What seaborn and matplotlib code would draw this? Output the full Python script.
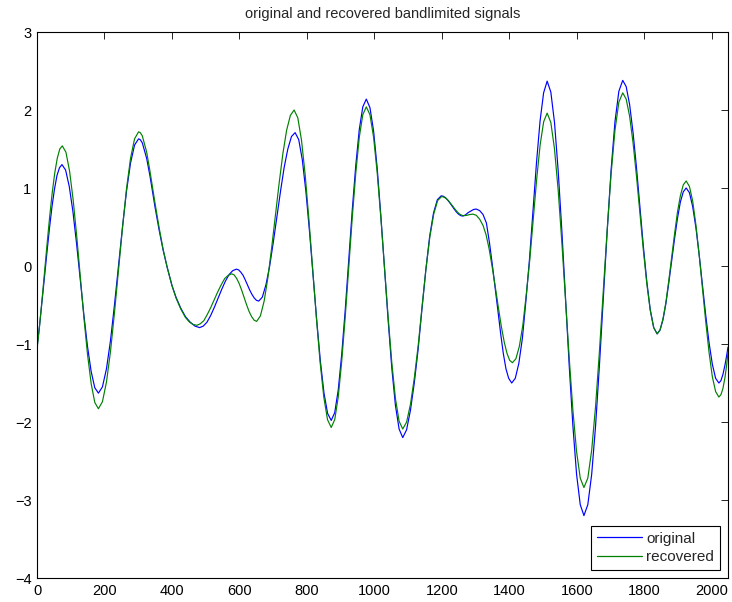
import matplotlib
matplotlib.use("Agg")
import matplotlib.pyplot as plt
import seaborn as sns
import pandas as pd

x_original = [0, 7.4, 14.8, 22.2, 29.6, 37, 44.4, 51.8, 59.2, 66.6, 74,
              84.8, 95.6, 106.4, 117.2, 128, 138.8, 149.6, 160.4, 171.2, 182,
              193.9, 205.8, 217.7, 229.6, 241.5, 253.4, 265.3, 277.2, 289.1, 301,
              306, 312, 325, 335, 350, 362, 374, 386, 400, 412, 426, 440, 454, 468, 482,
              492.9, 503.8, 514.7, 525.6, 536.5, 547.4, 558.3, 569.2, 580.1, 591,
              597.6, 604.2, 610.8, 617.4, 624, 630.6, 637.2, 643.8, 650.4, 657,
              667.8, 678.6, 689.4, 700.2, 711, 721.8, 732.6, 743.4, 754.2, 765,
              775.7, 786.4, 797.1, 807.8, 818.5, 829.2, 839.9, 850.6, 861.3, 872,
              882.4, 892.8, 903.2, 913.6, 924, 934.4, 944.8, 955.2, 965.6, 976,
              986.8, 997.6, 1008.4, 1019.2, 1030, 1040.8, 1051.6, 1062.4, 1073.2, 1084,
              1095.4, 1106.8, 1118.2, 1129.6, 1141, 1152.4, 1163.8, 1175.2, 1186.6, 1198,
              1204.4, 1210.8, 1217.2, 1223.6, 1230, 1236.4, 1242.8, 1249.2, 1255.6, 1262,
              1270, 1278, 1286, 1294, 1302,
              1312, 1322, 1332, 1341, 1350, 1358, 1366, 1374, 1382, 1390, 1398, 1407,
              1417.5, 1428, 1438.5, 1449, 1459.5, 1470, 1480.5, 1491, 1501.5, 1512,
              1522.9, 1533.8, 1544.7, 1555.6, 1566.5, 1577.4, 1588.3, 1599.2, 1610.1, 1621,
              1632.5, 1644, 1655.5, 1667, 1678.5, 1690, 1701.5, 1713, 1724.5, 1736,
              1746.2, 1756.4, 1766.6, 1776.8, 1787, 1797.2, 1807.4, 1817.6, 1827.8, 1838,
              1846.6, 1855.2, 1863.8, 1872.4, 1881, 1889.6, 1898.2, 1906.8, 1915.4, 1924,
              1933.7, 1943.4, 1953.1, 1962.8, 1972.5, 1982.2, 1991.9, 2001.6, 2011.3, 2021,
              2027, 2033, 2039, 2044, 2048]
y_original = [-1.045, -0.77, -0.46, -0.14, 0.18, 0.485, 0.76, 0.985, 1.16, 1.26, 1.30,
              1.23, 1.02, 0.70, 0.29, -0.165, -0.62, -1.03, -1.35, -1.56, -1.63,
              -1.55, -1.32, -0.96, -0.50, 0.0, 0.50, 0.96, 1.32, 1.55, 1.63,
              1.62, 1.58, 1.38, 1.15, 0.75, 0.46, 0.20, -0.02, -0.25, -0.40, -0.54, -0.65, -0.72, -0.77, -0.79,
              -0.77, -0.72, -0.635, -0.53, -0.415, -0.30, -0.195, -0.11, -0.06, -0.04,
              -0.05, -0.08, -0.12, -0.18, -0.245, -0.31, -0.365, -0.41, -0.44, -0.45,
              -0.40, -0.24, -0.005, 0.30, 0.63, 0.96, 1.265, 1.50, 1.66, 1.71,
              1.62, 1.36, 0.95, 0.435, -0.135, -0.705, -1.22, -1.63, -1.89, -1.98,
              -1.88, -1.59, -1.13, -0.56, 0.08, 0.72, 1.29, 1.75, 2.04, 2.14,
              2.03, 1.73, 1.25, 0.64, -0.03, -0.70, -1.31, -1.79, -2.09, -2.20,
              -2.10, -1.85, -1.50, -1.07, -0.55, -0.05, 0.38, 0.68, 0.85, 0.90,
              0.894, 0.875, 0.846, 0.81, 0.77, 0.73, 0.694, 0.665, 0.646, 0.64,
              0.655, 0.685, 0.705, 0.725, 0.73,
              0.71, 0.66, 0.55, 0.30, 0.0, -0.28, -0.57, -0.86, -1.12, -1.32, -1.44, -1.50,
              -1.44, -1.25, -0.93, -0.45, 0.08, 0.70, 1.33, 1.86, 2.22, 2.37,
              2.23, 1.84, 1.22, 0.45, -0.415, -1.28, -2.05, -2.67, -3.06, -3.20,
              -3.06, -2.67, -2.05, -1.27, -0.41, 0.45, 1.23, 1.85, 2.24, 2.38,
              2.30, 2.07, 1.71, 1.26, 0.755, 0.25, -0.20, -0.56, -0.79, -0.87,
              -0.82, -0.69, -0.485, -0.22, 0.065, 0.35, 0.61, 0.82, 0.95, 1.00,
              0.94, 0.76, 0.485, 0.135, -0.25, -0.64, -0.985, -1.26, -1.44, -1.50,
              -1.47, -1.39, -1.27, -1.15, -1.04]

x_recovered = [0, 7.5, 15, 22.5, 30, 37.5, 45, 52.5, 60, 67.5, 75,
               85.7, 96.4, 107.1, 117.8, 128.5, 139.2, 149.9, 160.6, 171.3, 182,
               193.9, 205.8, 217.7, 229.6, 241.5, 253.4, 265.3, 277.2, 289.1, 301,
               306, 312, 325, 335, 350, 362, 374, 386, 400, 412, 426, 440, 452, 463, 474,
               484.3, 494.6, 504.9, 515.2, 525.5, 535.8, 546.1, 556.4, 566.7, 577,
               584.4, 591.8, 599.2, 606.6, 614, 621.4, 628.8, 636.2, 643.6, 651,
               662.1, 673.2, 684.3, 695.4, 706.5, 717.6, 728.7, 739.8, 750.9, 762,
               773, 784, 795, 806, 817, 828, 839, 850, 861, 872,
               882.4, 892.8, 903.2, 913.6, 924, 934.4, 944.8, 955.2, 965.6, 976,
               986.8, 997.6, 1008.4, 1019.2, 1030, 1040.8, 1051.6, 1062.4, 1073.2, 1084,
               1095.5, 1107, 1118.5, 1130, 1141.5, 1153, 1164.5, 1176, 1187.5, 1199,
               1205.6, 1212.2, 1218.8, 1225.4, 1232, 1238.6, 1245.2, 1251.8, 1258.4, 1265,
               1274, 1283, 1292,
               1302, 1312, 1322, 1331, 1340, 1349, 1358, 1367, 1376, 1385, 1393, 1401, 1409,
               1419.3, 1429.6, 1439.9, 1450.2, 1460.5, 1470.8, 1481.1, 1491.4, 1501.7, 1512,
               1522.9, 1533.8, 1544.7, 1555.6, 1566.5, 1577.4, 1588.3, 1599.2, 1610.1, 1621,
               1632.5, 1644, 1655.5, 1667, 1678.5, 1690, 1701.5, 1713, 1724.5, 1736,
               1746.2, 1756.4, 1766.6, 1776.8, 1787, 1797.2, 1807.4, 1817.6, 1827.8, 1838,
               1846.6, 1855.2, 1863.8, 1872.4, 1881, 1889.6, 1898.2, 1906.8, 1915.4, 1924,
               1933.7, 1943.4, 1953.1, 1962.8, 1972.5, 1982.2, 1991.9, 2001.6, 2011.3, 2021,
               2027, 2033, 2039, 2044, 2048]
y_recovered = [-1.075, -0.77, -0.43, -0.07, 0.29, 0.63, 0.935, 1.19, 1.38, 1.50, 1.54,
               1.46, 1.22, 0.85, 0.38, -0.145, -0.67, -1.14, -1.51, -1.75, -1.83,
               -1.74, -1.49, -1.10, -0.60, -0.055, 0.49, 0.99, 1.38, 1.63, 1.72,
               1.71, 1.67, 1.46, 1.21, 0.80, 0.49, 0.21, -0.02, -0.25, -0.41, -0.55, -0.66, -0.72, -0.75, -0.76,
               -0.74, -0.70, -0.62, -0.53, -0.43, -0.33, -0.24, -0.16, -0.12, -0.10,
               -0.115, -0.16, -0.225, -0.31, -0.405, -0.50, -0.585, -0.65, -0.695, -0.71,
               -0.64, -0.45, -0.15, 0.23, 0.645, 1.06, 1.44, 1.74, 1.93, 2.00,
               1.90, 1.61, 1.16, 0.59, -0.035, -0.66, -1.23, -1.68, -1.97, -2.07,
               -1.97, -1.68, -1.22, -0.65, -0.015, 0.62, 1.19, 1.65, 1.94, 2.04,
               1.94, 1.65, 1.19, 0.61, -0.025, -0.66, -1.24, -1.70, -1.99, -2.09,
               -2.00, -1.77, -1.43, -1.01, -0.51, -0.03, 0.38, 0.67, 0.84, 0.89,
               0.884, 0.867, 0.84, 0.805, 0.768, 0.73, 0.696, 0.668, 0.651, 0.645,
               0.650, 0.660, 0.665,
               0.65, 0.60, 0.52, 0.40, 0.22, -0.01, -0.26, -0.52, -0.77, -0.98, -1.12, -1.21, -1.24,
               -1.19, -1.03, -0.76, -0.36, 0.08, 0.60, 1.12, 1.56, 1.85, 1.96,
               1.84, 1.50, 0.97, 0.30, -0.44, -1.18, -1.85, -2.38, -2.72, -2.84,
               -2.72, -2.36, -1.80, -1.09, -0.31, 0.47, 1.18, 1.74, 2.10, 2.22,
               2.14, 1.92, 1.58, 1.15, 0.675, 0.20, -0.23, -0.57, -0.79, -0.87,
               -0.82, -0.68, -0.47, -0.19, 0.11, 0.41, 0.69, 0.90, 1.04, 1.09,
               1.02, 0.83, 0.52, 0.13, -0.295, -0.72, -1.11, -1.42, -1.61, -1.68,
               -1.65, -1.57, -1.43, -1.27, -1.10]

series_names = ["original", "recovered"]
x_ticks = [0, 200, 400, 600, 800, 1000, 1200, 1400, 1600, 1800, 2000]
y_ticks = [-4, -3, -2, -1, 0, 1, 2, 3]
title_text = "original and recovered bandlimited signals"

sns.set_style("white")
plt.rcParams["font.family"] = ["Liberation Sans", "DejaVu Sans"]
plt.rcParams["axes.unicode_minus"] = True

df = pd.concat([
    pd.DataFrame({"x": x_original, "y": y_original, "signal": series_names[0]}),
    pd.DataFrame({"x": x_recovered, "y": y_recovered, "signal": series_names[1]}),
], ignore_index=True)

fig = plt.figure(figsize=(7.32, 6.02), dpi=100)
ax = fig.add_axes([37 / 732, 1 - 578 / 602, 691 / 732, 546 / 602])

sns.lineplot(data=df, x="x", y="y", hue="signal", sort=False, estimator=None,
             palette={"original": "#0000ff", "recovered": "#008000"},
             linewidth=0.85, ax=ax)

ax.set_xlim(0, 2048)
ax.set_ylim(-4, 3)
ax.set_xticks(x_ticks)
ax.set_yticks(y_ticks)
ax.set_xlabel("")
ax.set_ylabel("")
ax.set_title(title_text, fontsize=10.5, pad=10)
for s in ax.spines.values():
    s.set_visible(True)
    s.set_color("black")
    s.set_linewidth(0.8)
ax.tick_params(direction="in", length=5, width=0.6, top=True, right=True,
               labelsize=10.5, colors="black", pad=4)

leg = ax.legend(loc="lower right", frameon=True, fancybox=False,
                edgecolor="black", framealpha=1, fontsize=11,
                handlelength=2.9, borderaxespad=0.5, borderpad=0.4,
                labelspacing=0.3, handletextpad=0.3)
leg.get_frame().set_linewidth(0.8)
for line in leg.get_lines():
    line.set_linewidth(0.9)

fig.savefig("out.png", dpi=100)
